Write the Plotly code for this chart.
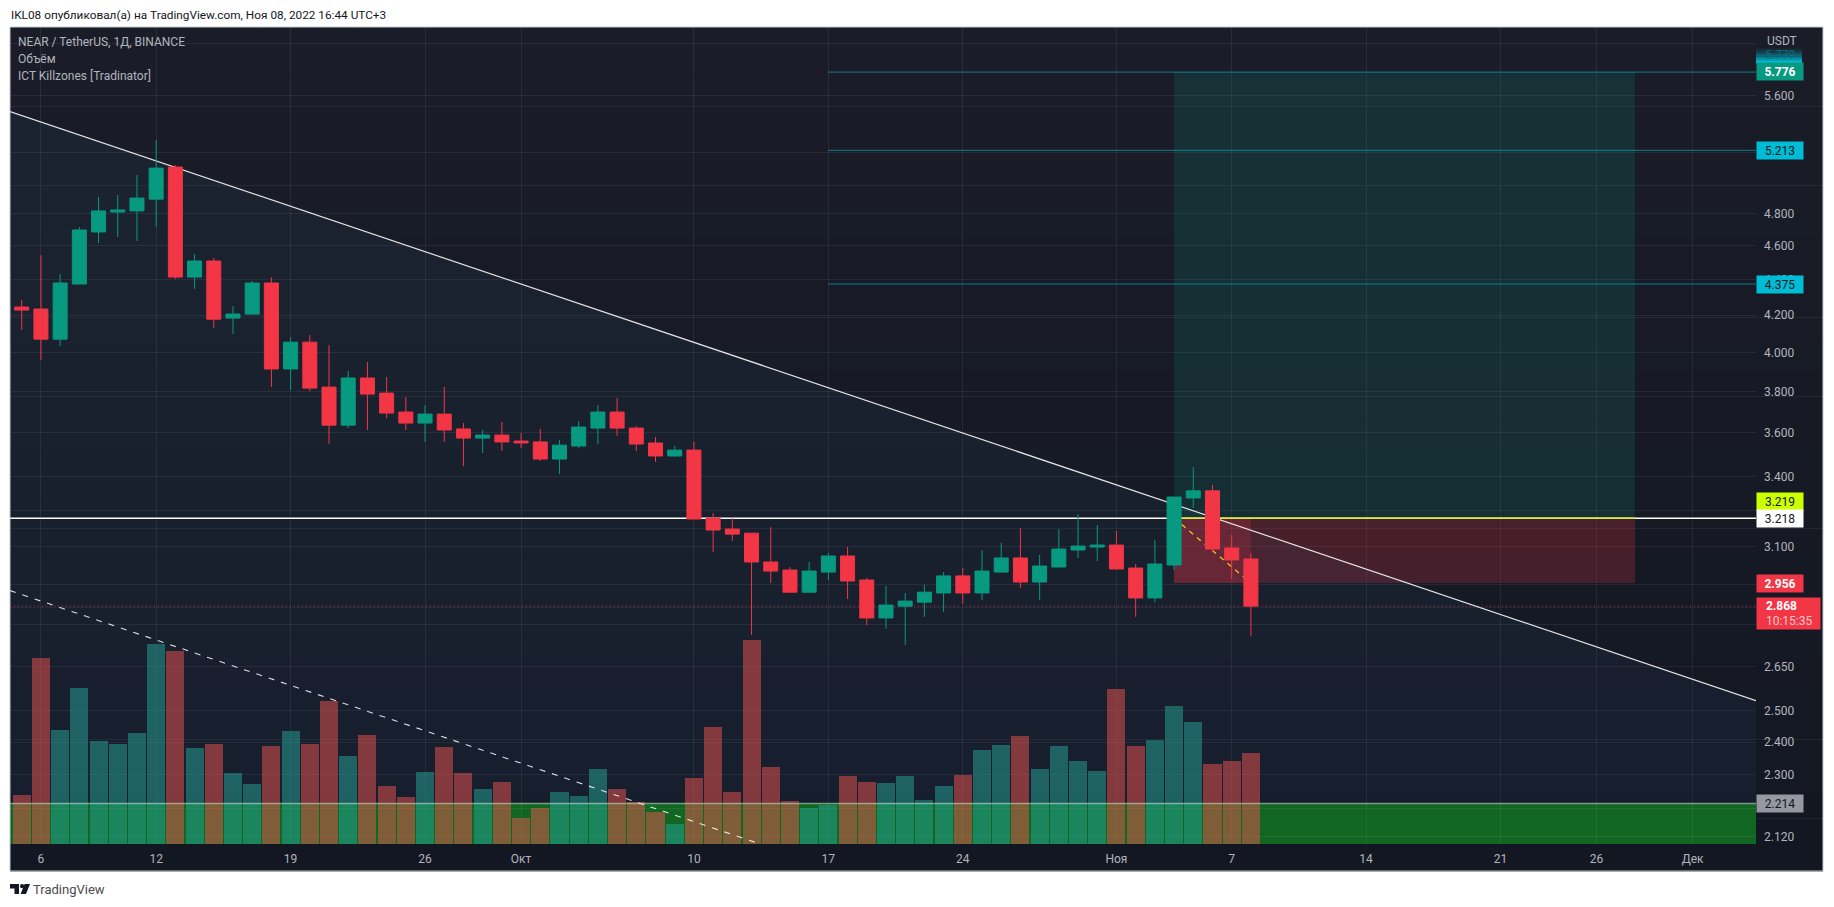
import math
import pandas as pd
import plotly.graph_objects as go

# ---------- data ----------
start_date = "2022-09-05"
opens = [4.245,4.234,4.070,4.375,4.684,4.808,4.815,4.890,5.100,4.415,4.509,4.184,4.206,4.381,3.914,4.054,3.822,3.636,3.868,3.792,3.699,3.646,3.689,3.618,3.575,3.589,3.561,3.557,3.478,3.538,3.622,3.699,3.622,3.552,3.492,3.519,3.219,3.173,3.156,3.039,3.007,2.921,2.999,3.063,2.968,2.824,2.868,2.883,2.918,2.984,2.918,2.999,3.055,2.960,3.019,3.087,3.099,3.107,3.015,2.899,3.027,3.305,3.336,3.095,3.051]
highs = [4.284,4.544,4.433,4.715,4.904,4.917,5.047,5.284,5.113,4.550,4.527,4.250,4.392,4.415,4.081,4.092,4.038,3.904,3.950,3.873,3.773,3.733,3.822,3.646,3.613,3.651,3.599,3.618,3.566,3.656,3.733,3.768,3.632,3.580,3.538,3.557,3.240,3.219,3.156,3.181,3.019,3.039,3.075,3.099,2.976,2.945,2.918,2.949,2.999,3.015,3.087,3.116,3.177,3.067,3.173,3.236,3.190,3.165,3.031,3.128,3.309,3.442,3.362,3.148,3.075]
lows = [4.119,3.960,4.033,4.375,4.617,4.653,4.629,4.715,4.404,4.347,4.130,4.097,4.206,3.822,3.807,3.802,3.547,3.622,3.613,3.670,3.613,3.557,3.557,3.446,3.506,3.515,3.528,3.469,3.410,3.528,3.547,3.585,3.515,3.465,3.487,3.215,3.079,3.124,2.762,2.956,2.918,2.921,2.968,2.895,2.798,2.784,2.726,2.828,2.846,2.876,2.891,2.999,2.937,2.891,3.019,3.055,3.043,3.011,2.828,2.883,3.007,3.262,3.079,2.972,2.758]
closes = [4.228,4.070,4.381,4.696,4.815,4.821,4.897,5.093,4.415,4.509,4.178,4.206,4.381,3.914,4.054,3.817,3.636,3.868,3.787,3.694,3.646,3.689,3.613,3.575,3.589,3.557,3.552,3.478,3.542,3.627,3.699,3.622,3.547,3.492,3.519,3.215,3.169,3.152,3.039,3.003,2.921,3.003,3.063,2.964,2.824,2.872,2.887,2.921,2.984,2.918,3.003,3.055,2.960,3.023,3.091,3.103,3.107,3.011,2.899,3.031,3.309,3.336,3.091,3.047,2.868]
volumes = [147,558,342,468,309,300,333,600,579,288,300,213,180,294,339,300,429,264,327,174,141,216,291,213,165,186,78,108,156,144,225,165,126,96,60,198,351,156,612,231,129,108,117,204,186,183,204,132,174,207,282,297,324,225,294,249,219,465,294,312,414,366,240,249,273]

x_tick_dates = ["2022-09-06","2022-09-12","2022-09-19","2022-09-26","2022-10-01","2022-10-10","2022-10-17","2022-10-24","2022-11-01","2022-11-07","2022-11-14","2022-11-21","2022-11-26","2022-12-01"]
x_tick_text = ["6","12","19","26","Окт","10","17","24","Ноя","7","14","21","26","Дек"]
y_tick_vals = [6.0,5.6,5.2,4.8,4.6,4.4,4.2,4.0,3.8,3.6,3.4,3.25,3.1,2.95,2.8,2.65,2.5,2.4,2.3,2.2,2.12]
y_tick_text = ["","5.600","","4.800","4.600","4.400","4.200","4.000","3.800","3.600","3.400","","3.100","","","2.650","2.500","2.400","2.300","","2.120"]

x_left, x_right = "2022-09-04 09:21", "2022-12-04 07:12"
price_bottom, price_top = 2.0997, 6.128
trend_prices = [5.484, 2.534]
channel_dates = ["2022-09-04 09:21", "2022-10-13 06:30"]
channel_prices = [2.927, 2.103]
position_start, position_end, position_now = "2022-11-04", "2022-11-28", "2022-11-08"
entry_price, target_price, stop_price = 3.219, 5.776, 2.956
tp_levels = [5.776, 5.213, 4.375]
tp_start = "2022-10-17"
hline_price, last_price, zone_price = 3.218, 2.868, 2.214

dates = pd.date_range(start_date, periods=len(opens), freq="D")

# ---------- layout helpers ----------
W, H = 1834, 907
L, R, T, B = 10, 1756, 27, 844
def px(x): return (x - L) / (R - L)
def py(y): return (B - y) / (B - T)
def lg(v): return math.log10(v)
def screen_y(price):
    return T + (B - T) * (lg(price_top) - lg(price)) / (lg(price_top) - lg(price_bottom))

GREEN, RED = "#089981", "#f23645"
CYAN = "#00bcd4"
TXT = "#b2b5be"
FONT = "Roboto"

shapes = []
# gradient panel (plot + axes)
N = 32
for i in range(N):
    f = i / (N - 1)
    c = (round(26 - 7 * f), round(29 - 6 * f), round(40 - 6 * f))
    y0 = 27 + (871 - 27) * i / N
    y1 = 27 + (871 - 27) * (i + 1) / N + 0.5
    shapes.append(dict(type="rect", xref="paper", yref="paper", layer="below", x0=px(10), x1=px(1823),
                       y0=py(y1), y1=py(y0), line_width=0, fillcolor=f"rgb{c}"))
# tint under the falling trend line
shapes.append(dict(type="path", xref="paper", yref="paper", layer="below", line_width=0,
                   fillcolor="rgba(39,68,104,0.14)",
                   path=f"M {px(L)},{py(screen_y(trend_prices[0]))} L {px(R)},{py(screen_y(trend_prices[1]))} "
                        f"L {px(R)},{py(B)} L {px(L)},{py(B)} Z"))
# green zone
shapes.append(dict(type="rect", xref="x", yref="y", layer="below", x0=x_left, x1=x_right,
                   y0=price_bottom, y1=zone_price, line_width=0, fillcolor="#116622"))
# position boxes
shapes.append(dict(type="rect", xref="x", yref="y", layer="between", x0=position_start, x1=position_end,
                   y0=entry_price, y1=target_price, line_width=0, fillcolor="rgba(20,150,130,0.17)"))
shapes.append(dict(type="rect", xref="x", yref="y", layer="between", x0=position_start, x1=position_end,
                   y0=stop_price, y1=entry_price, line_width=0, fillcolor="rgba(242,54,69,0.22)"))
shapes.append(dict(type="rect", xref="x", yref="y", layer="between", x0=position_start, x1=position_now,
                   y0=stop_price, y1=entry_price, line_width=0, fillcolor="rgba(242,54,69,0.2)"))
# lines under the candles
for lv in tp_levels:
    shapes.append(dict(type="line", xref="x", yref="y", layer="between", x0=tp_start, x1=x_right, y0=lv, y1=lv,
                       line=dict(color="rgba(0,188,212,0.6)", width=1)))
shapes.append(dict(type="line", xref="x", yref="y", layer="between", x0=x_left, x1=x_right, y0=last_price, y1=last_price,
                   line=dict(color="rgba(242,54,69,0.75)", width=1, dash="1px,3px")))
shapes.append(dict(type="line", xref="x", yref="y", layer="between", x0=x_left, x1=x_right, y0=hline_price, y1=hline_price,
                   line=dict(color="#ffffff", width=1.5)))
shapes.append(dict(type="line", xref="x", yref="y", layer="between", x0=position_start, x1=position_end,
                   y0=entry_price, y1=entry_price, line=dict(color="#ccdd22", width=1.5)))
shapes.append(dict(type="line", xref="x", yref="y", layer="between", x0=position_start, x1=position_now,
                   y0=entry_price, y1=stop_price, line=dict(color="#e8c820", width=1.3, dash="5px,5px")))
shapes.append(dict(type="line", xref="x", yref="y", layer="between", x0=x_left, x1=x_right,
                   y0=trend_prices[0], y1=trend_prices[1], line=dict(color="rgba(255,255,255,0.88)", width=1.2)))
# frame
shapes.append(dict(type="rect", xref="paper", yref="paper", layer="above", x0=px(10), x1=px(1823), y0=py(871), y1=py(27),
                   line=dict(color="#c5c8cf", width=1), fillcolor="rgba(0,0,0,0)"))
# logo
logo = [
    "M 10,884 L 19,884 L 19,894 L 14.5,894 L 14.5,888.5 L 10,888.5 Z",
    "M 24.6,884 L 30,884 L 26,894 L 20.6,894 Z",
]
def path_px(s):
    out = []
    for tok in s.split():
        if "," in tok:
            a, b = tok.split(",")
            out.append(f"{px(float(a))},{py(float(b))}")
        else:
            out.append(tok)
    return " ".join(out)
for p in logo:
    shapes.append(dict(type="path", xref="paper", yref="paper", layer="above", line_width=0, fillcolor="#131722", path=path_px(p)))
shapes.append(dict(type="circle", xref="paper", yref="paper", layer="above", line_width=0, fillcolor="#131722",
                   x0=px(20), x1=px(24.2), y0=py(888.3), y1=py(884)))
# faded hidden tag
for i in range(8):
    y0 = 46 + i * 17 / 8
    shapes.append(dict(type="rect", xref="paper", yref="paper", layer="above", line_width=0,
                       x0=px(1756), x1=px(1802), y0=py(y0 + 17 / 8 + 0.2), y1=py(y0),
                       fillcolor=f"rgba(0,188,212,{(i / 7) ** 1.4:.3f})"))

ann = []
def text_px(x, y, text, color=TXT, size=12, anchor="left"):
    ann.append(dict(xref="paper", yref="paper", x=px(x), y=py(y), text=text, showarrow=False, xanchor=anchor, yanchor="middle",
                    font=dict(family=FONT, size=size, color=color), align="left"))
def tag(price_y, text, bg, fg, width=46, height=17, align="center", size=12):
    ann.append(dict(xref="paper", yref="paper", x=px(1756), y=py(price_y), text=text, showarrow=False, xanchor="left", yanchor="middle",
                    width=width, height=height, bgcolor=bg, borderpad=0, align=align, valign="middle",
                    font=dict(family=FONT, size=size, color=fg)))

text_px(8.5, 15, "IKL08 опубликовал(а) на TradingView.com, Ноя 08, 2022 16:44 UTC+3", color="#131722", size=11.8)
text_px(16, 41.7, "NEAR / TetherUS, 1Д, BINANCE")
text_px(16, 59, "Объём")
text_px(16, 76, "ICT Killzones [Tradinator]")
text_px(1765, 41, "USDT")
text_px(31, 889, "TradingView", color="#4a4a4a", size=13)
ann.append(dict(xref="paper", yref="paper", x=px(1780), y=py(55), text="5.779", showarrow=False, xanchor="center", yanchor="middle",
                font=dict(family=FONT, size=12, color="#0e6c7c")))
tag(71.5, "<b>5.776</b>", GREEN, "#ffffff")
tag(screen_y(5.213), "5.213", CYAN, "#131722")
tag(screen_y(4.375), "4.375", CYAN, "#131722")
tag(501.3, "3.219", "#ccff00", "#131722")
tag(screen_y(hline_price), "3.218", "#ffffff", "#131722")
tag(screen_y(stop_price) + 0.5, "<b>2.956</b>", RED, "#ffffff")
tag(613.5, "&nbsp;&nbsp;&nbsp;<b>2.868</b><br>&nbsp;&nbsp;&nbsp;<span style='color:#fbc6cb'>10:15:35</span>", RED, "#ffffff", width=63, height=31, align="left")
tag(803.3, "2.214", "#9598a1", "#131722")

fig = go.Figure()
fig.add_trace(go.Bar(
    x=dates, y=volumes, yaxis="y2", width=0.94 * 86400000,
    marker=dict(color=["rgba(38,166,154,0.5)" if c >= o else "rgba(239,83,80,0.5)" for o, c in zip(opens, closes)], line_width=0),
    showlegend=False, hoverinfo="skip"))
fig.add_trace(go.Candlestick(
    x=dates, open=opens, high=highs, low=lows, close=closes, yaxis="y3", whiskerwidth=0,
    increasing=dict(line=dict(color=GREEN, width=1), fillcolor=GREEN),
    decreasing=dict(line=dict(color=RED, width=1), fillcolor=RED),
    showlegend=False, hoverinfo="skip"))
fig.add_trace(go.Scatter(x=channel_dates, y=channel_prices, yaxis="y3", mode="lines", showlegend=False, hoverinfo="skip",
                         line=dict(color="rgba(255,255,255,0.85)", width=1.1, dash="6px,7px")))
fig.add_trace(go.Scatter(x=[x_left, x_right], y=[zone_price, zone_price], yaxis="y3", mode="lines", showlegend=False, hoverinfo="skip",
                         line=dict(color="rgba(200,235,205,0.55)", width=1.5)))

log_range = [lg(price_bottom), lg(price_top)]
fig.update_layout(
    width=W, height=H, autosize=False,
    margin=dict(l=L, r=W - R, t=T, b=H - B, pad=0),
    paper_bgcolor="#ffffff", plot_bgcolor="rgba(0,0,0,0)",
    showlegend=False, hovermode=False, dragmode=False,
    boxgap=0.27, boxgroupgap=0, bargap=0,
    font=dict(family=FONT, size=12, color=TXT),
    xaxis=dict(type="date", range=[x_left, x_right], rangeslider=dict(visible=False),
               tickmode="array", tickvals=x_tick_dates, ticktext=x_tick_text,
               showgrid=True, gridcolor="rgba(240,243,250,0.07)", gridwidth=1, zeroline=False, showline=False,
               ticks="", ticklabelstandoff=6, tickfont=dict(family=FONT, size=12, color=TXT), tickangle=0),
    yaxis=dict(type="log", range=log_range, side="right", tickmode="array", tickvals=y_tick_vals, ticktext=y_tick_text,
               showgrid=True, gridcolor="rgba(240,243,250,0.07)", gridwidth=1, zeroline=False, showline=False,
               ticks="", ticklabelstandoff=7, tickfont=dict(family=FONT, size=12, color=TXT)),
    yaxis2=dict(overlaying="y", range=[0, 2451], visible=False, showgrid=False, zeroline=False),
    yaxis3=dict(overlaying="y", type="log", range=log_range, visible=False, showgrid=False, zeroline=False),
    shapes=shapes, annotations=ann,
)

fig.write_html("out.html", config={"displayModeBar": False},
               post_script="document.body.style.margin='0';document.body.style.overflow='hidden';")
